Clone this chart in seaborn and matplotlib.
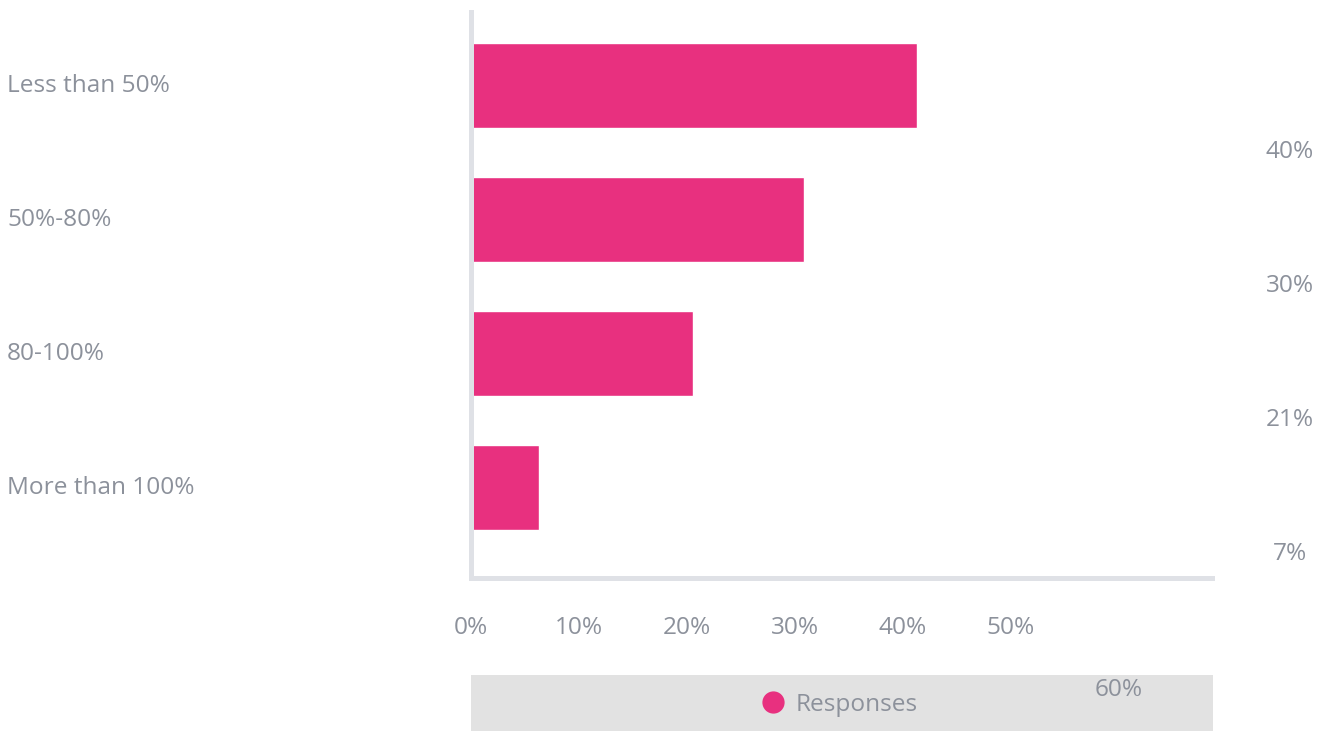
import matplotlib
matplotlib.use("Agg")
import matplotlib.pyplot as plt
import seaborn as sns
import pandas as pd
from matplotlib.lines import Line2D
from matplotlib.transforms import blended_transform_factory

categories = ["Less than 50%", "50%-80%", "80-100%", "More than 100%"]
values = [41.3, 30.8, 20.6, 6.3]
value_labels = ["40%", "30%", "21%", "7%"]
x_ticks = [0, 10, 20, 30, 40, 50]
x_tick_labels = ["0%", "10%", "20%", "30%", "40%", "50%"]
series_name = "Responses"

PINK = "#E8307F"
GRAY_TXT = "#8C919B"
AXIS = "#DFE1E6"
BAND = "#E2E2E2"
FS = 17.6

sns.set_theme(style="white")
plt.rcParams["font.family"] = ["Open Sans", "DejaVu Sans"]

W, H = 1330, 731
fig = plt.figure(figsize=(W / 100, H / 100), dpi=100)

def fx(px):
    return px / W

def fy(py):
    return 1 - py / H

ax_l, ax_r, ax_t, ax_b = 471, 1212, 12, 578
ax = fig.add_axes([fx(ax_l), fy(ax_b), fx(ax_r - ax_l), (ax_b - ax_t) / H])

df = pd.DataFrame({"cat": categories, "val": values})
sns.barplot(data=df, x="val", y="cat", orient="h", color=PINK, width=0.634,
            saturation=1, ax=ax, zorder=2)

px_per_pct = 10.8
ax.set_xlim(0, (ax_r - ax_l) / px_per_pct)
ax.set_ylim(3.672, -0.552)
ax.set_xlabel("")
ax.set_ylabel("")

for s in ["top", "right"]:
    ax.spines[s].set_visible(False)
for s in ["left", "bottom"]:
    ax.spines[s].set_color(AXIS)
    ax.spines[s].set_linewidth(3.6)
    ax.spines[s].set_zorder(3)

ax.set_xticks(x_ticks)
ax.set_xticklabels(x_tick_labels)
ax.tick_params(axis="x", length=0, pad=27, labelsize=FS, labelcolor=GRAY_TXT)
ax.set_yticks([])

# category labels on far left
trans_y = blended_transform_factory(fig.transFigure, ax.transData)
for i, c in enumerate(categories):
    ax.text(fx(7), i, c, transform=trans_y, ha="left", va="center",
            fontsize=FS, color=GRAY_TXT, clip_on=False)

# value labels on the right (offset below bars)
for i, lab in enumerate(value_labels):
    ax.text(fx(1290), i + 0.49, lab, transform=trans_y, ha="center", va="center",
            fontsize=FS, color=GRAY_TXT, clip_on=False)

# stray 60% tick label
trans_x = blended_transform_factory(ax.transData, fig.transFigure)
ax.text(60, fy(690), "60%", transform=trans_x, ha="center", va="center",
        fontsize=FS, color=GRAY_TXT, clip_on=False)

# legend band
lax = fig.add_axes([fx(471), 0, fx(1213 - 471), (H - 675) / H])
lax.set_facecolor(BAND)
for s in lax.spines.values():
    s.set_visible(False)
lax.set_xticks([])
lax.set_yticks([])
lax.set_zorder(-1)
handle = Line2D([], [], marker="o", linestyle="none", markersize=15,
                markerfacecolor=PINK, markeredgecolor=PINK, label=series_name)
leg = lax.legend(handles=[handle], loc="center", frameon=False, fontsize=FS,
                 handlelength=0.9, handletextpad=0.45, bbox_to_anchor=(0.497, 0.47))
for t in leg.get_texts():
    t.set_color(GRAY_TXT)

fig.savefig("out.png", dpi=100)
